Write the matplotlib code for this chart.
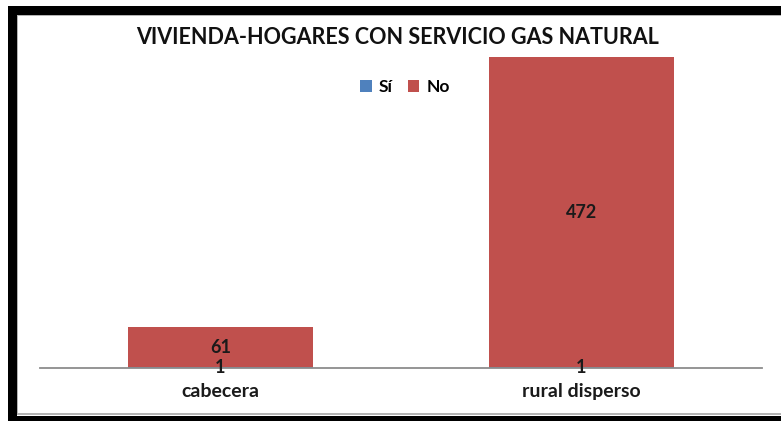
import matplotlib
matplotlib.use("Agg")

import matplotlib.pyplot as plt
from matplotlib.patches import Rectangle

# Data
categories = ['cabecera', 'rural disperso']
si_values = [1, 1]
no_values = [61, 472]

plt.rcParams['font.family'] = ['Lato', 'DejaVu Sans']

W, H = 781, 421
fig = plt.figure(figsize=(W / 100, H / 100), dpi=100)
ax = fig.add_axes([40 / W, (H - 368) / H, 722 / W, 329 / H])

x = list(range(len(categories)))
b_si = ax.bar(x, si_values, width=0.515, color='#4F81BD', label='Sí')
b_no = ax.bar(x, no_values, bottom=si_values, width=0.515, color='#C0504D', label='No')

ax.bar_label(b_si, label_type='center', fontsize=13, fontweight='bold', color='#1a1a1a')
ax.bar_label(b_no, label_type='center', fontsize=13, fontweight='bold', color='#1a1a1a')

ax.set_xlim(-0.5, 1.5)
ax.set_ylim(0, 500)
ax.set_xticks(x)
ax.set_xticklabels(categories, fontsize=14, fontweight='bold', color='#1a1a1a')
ax.tick_params(axis='x', length=0, pad=11)
ax.set_yticks([])
for s in ['top', 'left', 'right']:
    ax.spines[s].set_visible(False)
ax.spines['bottom'].set_color('#8c8c8c')
ax.spines['bottom'].set_linewidth(1.3)

fig.text(398 / W, 1 - 37 / H, 'VIVIENDA-HOGARES CON SERVICIO GAS NATURAL',
         ha='center', va='center', fontsize=15.5, fontweight='bold', color='#111111')

ax.legend(loc='center', bbox_to_anchor=(405 / W, 1 - 87 / H), bbox_transform=fig.transFigure,
          ncol=2, frameon=False, handlelength=0.65, handleheight=0.65, handletextpad=0.4,
          columnspacing=0.9, prop={'size': 12.5, 'weight': 'bold'})

# Outer frame: black bands plus thin gray inner line (pixel coordinates from top-left)
def band(x0, y0, x1, y1, color):
    fig.patches.append(Rectangle((x0 / W, 1 - y1 / H), (x1 - x0) / W, (y1 - y0) / H,
                                 transform=fig.transFigure, facecolor=color,
                                 edgecolor='none', clip_on=False))

band(8, 6, W, 14.5, 'black')      # top
band(8, 6, 16.5, H, 'black')      # left
band(8, 415.5, W, H, 'black')     # bottom
band(16.5, 15, W, 16, '#b4b4b4')  # inner gray top
band(16.5, 15, 17.5, 414.5, '#b4b4b4')  # inner gray left
band(16.5, 413, W, 414.5, '#b4b4b4')    # inner gray bottom

fig.savefig('out.png', dpi=100)
